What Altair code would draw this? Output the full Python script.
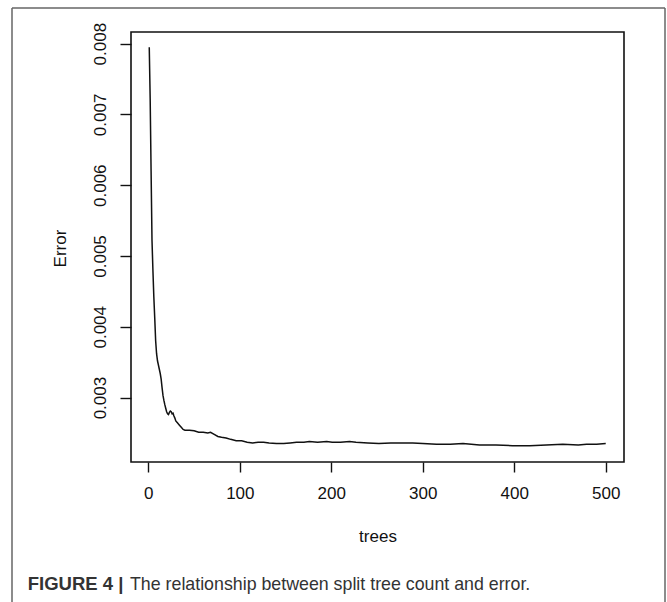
import altair as alt
import pandas as pd

trees = [1, 2, 3, 4, 5, 6, 7, 8, 9, 10, 11, 12, 13, 14, 15, 16, 17, 18, 19, 20,
         21, 22, 23, 24, 25, 26, 27, 28, 29, 30, 32, 34, 36, 38, 40, 45, 50, 55,
         60, 65, 68, 72, 76, 80, 85, 90, 96, 102, 108, 114, 120, 126, 132, 140,
         148, 155, 162, 170, 176, 185, 195, 201, 210, 220, 227, 240, 252, 265,
         278, 289, 300, 315, 330, 344, 362, 380, 398, 417, 435, 453, 470, 479,
         490, 500]
error = [0.00795, 0.00722, 0.00620, 0.00522, 0.00480, 0.00442, 0.00412, 0.00380,
         0.00362, 0.00352, 0.00346, 0.00340, 0.00334, 0.00326, 0.00314, 0.00303,
         0.00296, 0.00290, 0.00285, 0.00280, 0.00277, 0.00276, 0.00279, 0.00281,
         0.00280, 0.00277, 0.00278, 0.00274, 0.00271, 0.00267, 0.00264, 0.00261,
         0.00258, 0.00255, 0.00254, 0.00254, 0.00253, 0.00251, 0.00251, 0.00250,
         0.00251, 0.00248, 0.00245, 0.00244, 0.00243, 0.00241, 0.00239, 0.00239,
         0.00237, 0.00236, 0.00237, 0.00237, 0.00236, 0.00235, 0.00235, 0.00236,
         0.00237, 0.00237, 0.00238, 0.00237, 0.00238, 0.00237, 0.00237, 0.00238,
         0.00237, 0.00236, 0.00235, 0.00236, 0.00236, 0.00236, 0.00235, 0.00234,
         0.00234, 0.00235, 0.00233, 0.00233, 0.00232, 0.00232, 0.00233, 0.00234,
         0.00233, 0.00234, 0.00234, 0.00235]

x_ticks = [0, 100, 200, 300, 400, 500]
y_ticks = [0.003, 0.004, 0.005, 0.006, 0.007, 0.008]

caption_bold = "FIGURE 4 |"
caption_text = "The relationship between split tree count and error."

FONT = "Liberation Sans"
FS = 17
INK = "#111111"
W, H = 493, 430
PL, PT = 131, 32

df = pd.DataFrame({"trees": trees, "error": error})

line = alt.Chart(df).mark_line(color=INK, strokeWidth=1.5).encode(
    x=alt.X("trees:Q",
            scale=alt.Scale(domain=[-18.96, 519.96], nice=False, zero=False),
            axis=alt.Axis(values=x_ticks, domain=False, grid=False, tickSize=10,
                          tickColor=INK, tickWidth=1.4,
                          labelFontSize=FS, labelFont=FONT, labelColor=INK,
                          labelPadding=13, labelFlush=False,
                          title="trees", titleFont=FONT, titleFontSize=FS,
                          titleFontWeight="normal", titleColor=INK,
                          titleX=W / 2, titleY=74, titleBaseline="middle",
                          titleAlign="center")),
    y=alt.Y("error:Q",
            scale=alt.Scale(domain=[0.00209, 0.008164], nice=False, zero=False),
            axis=alt.Axis(values=y_ticks, format=".3f", domain=False, grid=False,
                          tickSize=11, tickColor=INK, tickWidth=1.4,
                          labelFontSize=FS, labelFont=FONT, labelColor=INK,
                          labelAngle=270, labelAlign="center", labelBaseline="bottom",
                          labelPadding=11, labelFlush=False,
                          title="Error", titleFont=FONT, titleFontSize=FS,
                          titleFontWeight="normal", titleColor=INK,
                          titleAngle=270, titleX=60 - PL, titleY=248 - PT,
                          titleBaseline="middle", titleAlign="center")),
)

one = alt.Data(values=[{"k": 1}])
frame_col = "#666666"
left_rule = alt.Chart(one).mark_rule(color=frame_col, strokeWidth=1.5).encode(
    x=alt.value(12 - PL), y=alt.value(8 - PT), y2=alt.value(602 - PT))
top_rule = alt.Chart(one).mark_rule(color=frame_col, strokeWidth=1.5).encode(
    x=alt.value(12 - PL), x2=alt.value(665 - PL), y=alt.value(8 - PT))
right_rule = alt.Chart(one).mark_rule(color=frame_col, strokeWidth=1.5).encode(
    x=alt.value(665 - PL), y=alt.value(8 - PT), y2=alt.value(602 - PT))

cap1 = alt.Chart(one).mark_text(
    text=caption_bold, font=FONT, fontSize=18.5, fontWeight="bold",
    color="#333333", align="left", baseline="alphabetic").encode(
    x=alt.value(27.7 - PL), y=alt.value(590 - PT))
cap2 = alt.Chart(one).mark_text(
    text=caption_text, font=FONT, fontSize=17.8, fontWeight="normal",
    color="#333333", align="left", baseline="alphabetic").encode(
    x=alt.value(130 - PL), y=alt.value(590 - PT))

chart = alt.layer(line, left_rule, top_rule, right_rule, cap1, cap2).properties(
    width=W, height=H,
    background="white",
    autosize=alt.AutoSizeParams(type="none"),
    padding={"left": PL, "top": PT, "right": 667 - PL - W, "bottom": 602 - PT - H},
).configure_view(stroke="#111111", strokeWidth=1.6)

chart.save("out.html", embed_options={"renderer": "svg", "actions": False})
